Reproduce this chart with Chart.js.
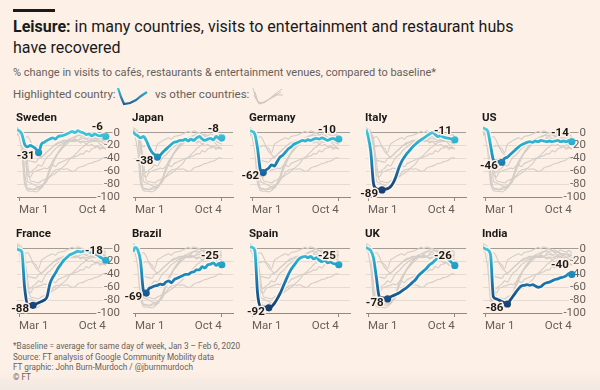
<!DOCTYPE html>
<html>
<head>
<meta charset="utf-8">
<script src="https://cdn.jsdelivr.net/npm/chart.js@4/dist/chart.umd.min.js"></script>
<style>
  body { margin: 0; width: 600px; height: 390px; position: relative; overflow: hidden;
         background: linear-gradient(#fdf0e6 0, #fdf0e6 370px, #f1e8e1 390px);
         font-family: Roboto, "Liberation Sans", sans-serif; color: #1a1a1a; }
  .abs { position: absolute; white-space: nowrap; }
  .title { left: 13px; top: 16px; font-size: 16px; line-height: 21px; color: #1a1a1a; }
  .sub { left: 13px; font-size: 11px; color: #66605c; }
  .name { font-size: 11.5px; font-weight: bold; color: #1a1a1a; }
  .foot { left: 13px; font-size: 8.2px; color: #66605c; }
  canvas { position: absolute; }
</style>
</head>
<body>
<div class="abs" style="left:13px;top:9px;width:42px;height:3px;background:#1a1a1a"></div>
<div class="abs title"><b>Leisure:</b> in many countries, visits to entertainment and restaurant hubs<br>have recovered</div>
<div class="abs sub" style="top:66px">% change in visits to cafés, restaurants &amp; entertainment venues, compared to baseline*</div>
<div class="abs sub" style="top:87px;font-size:11.5px">Highlighted country:</div>
<div class="abs sub" style="top:87px;left:155px;font-size:11.5px">vs other countries:</div>
<svg class="abs" style="left:0;top:0" width="300" height="110">
  <defs>
    <linearGradient id="lg" x1="0" y1="0" x2="0" y2="1">
      <stop offset="0" stop-color="#3fc4da"/>
      <stop offset="1" stop-color="#1b5f98"/>
    </linearGradient>
  </defs>
  <polyline points="118,88 121,97 124,104 130,103 136,100 141,96 147,92" fill="none" stroke="url(#lg)" stroke-width="2.2"/>
  <g fill="none" stroke="#cdc7c1" stroke-width="1">
    <polyline points="253,88 256,99 260,104 268,100 275,94 282,89"/>
    <polyline points="255,92 258,102 264,103 272,97 281,92"/>
    <polyline points="254,95 259,104 266,101 277,95 283,95"/>
  </g>
</svg>

<div class="abs foot" style="top:341px">*Baseline = average for same day of week, Jan 3 – Feb 6, 2020</div>
<div class="abs foot" style="top:351.5px">Source: FT analysis of Google Community Mobility data</div>
<div class="abs foot" style="top:362px">FT graphic: John Burn-Murdoch / @jburnmurdoch</div>
<div class="abs foot" style="top:372px">© FT</div>

<script>
// days relative to Mar 1 (weekly points, 7-day averages)
var days = [-5, 0, 7, 14, 21, 28, 35, 42, 49, 56, 63, 70, 77, 84, 91, 98, 105,
            112, 119, 126, 133, 140, 147, 154, 161, 168, 175, 182, 189, 196, 203, 210, 217];

var countries = ["Sweden", "Japan", "Germany", "Italy", "US",
                 "France", "Brazil", "Spain", "UK", "India"];

var sweden  = [5, 3, -2, -18, -22, -20, -22, -25, -31, -18, -15, -12, -10, -8, -10, -6, -5,
               -4, -2, 0, 2, 0, 3, 1, 0, -3, -2, -5, -2, -4, -5, -3, -6];
var japan   = [2, -2, -5, -8, -6, -12, -22, -30, -34, -38, -35, -30, -26, -22, -18, -15, -14,
               -12, -12, -10, -13, -10, -12, -8, -6, -10, -12, -10, -9, -11, -6, -9, -8];
var germany = [3, 2, -2, -25, -58, -62, -58, -55, -50, -52, -45, -38, -35, -30, -25, -22, -18,
               -16, -14, -12, -13, -11, -12, -10, -9, -10, -8, -10, -12, -10, -9, -11, -10];
var italy   = [5, -5, -30, -80, -87, -88, -89, -88, -87, -84, -78, -68, -55, -45, -38, -32, -27,
               -22, -18, -14, -11, -8, -5, -2, 0, -3, -6, -5, -7, -8, -9, -10, -11];
var us      = [8, 6, 2, -20, -42, -44, -45, -46, -40, -38, -34, -30, -26, -22, -19, -17, -15,
               -14, -15, -13, -14, -12, -13, -14, -13, -14, -13, -12, -14, -13, -14, -12, -14];
var france  = [0, -2, -5, -60, -86, -87, -88, -86, -84, -82, -80, -75, -55, -45, -38, -30, -24,
               -18, -14, -10, -8, -6, -4, -5, -4, -3, -5, -6, -8, -10, -13, -16, -18];
var brazil  = [-5, 2, -2, -20, -65, -69, -62, -60, -58, -57, -55, -56, -52, -50, -53, -48, -46,
               -44, -42, -40, -40, -37, -36, -33, -33, -28, -30, -25, -24, -22, -26, -23, -25];
var spain   = [3, 2, -3, -70, -90, -91, -91, -92, -90, -85, -78, -70, -60, -50, -40, -32, -26,
               -20, -15, -13, -12, -14, -12, -16, -14, -18, -20, -18, -22, -21, -23, -24, -25];
var uk      = [2, 0, -3, -15, -45, -74, -76, -77, -78, -75, -73, -71, -69, -66, -63, -60, -56,
               -52, -48, -42, -38, -34, -30, -25, -22, -18, -15, -14, -12, -14, -18, -22, -26];
var india   = [2, 0, -2, -10, -75, -78, -80, -82, -84, -86, -80, -74, -68, -62, -58, -57, -56,
               -57, -56, -58, -60, -59, -55, -53, -52, -50, -48, -47, -45, -44, -42, -39, -40];

var series = [sweden, japan, germany, italy, us, france, brazil, spain, uk, india];

var yTicks = [0, -20, -40, -60, -80, -100];
var xTickDays = [0, 217];
var xTickLabels = ["Mar 1", "Oct 4"];

var colX = [17, 133, 250, 366, 483];
var rowTop = [123, 239];   // top of plot area (value +15)
var PLOT_W = 100, PLOT_H = 74;
var PAD = { left: 16, right: 12, top: 10, bottom: 2 };
var BG = "#fdf0e6";

function lineGradient(chart) {
  var area = chart.chartArea;
  if (!area) return "#2aa8c8";
  var ys = chart.scales.y;
  var g = chart.ctx.createLinearGradient(0, ys.getPixelForValue(10), 0, ys.getPixelForValue(-100));
  g.addColorStop(0.00, "#55d3e3");
  g.addColorStop(0.09, "#3fc4da");
  g.addColorStop(0.27, "#27aacb");
  g.addColorStop(0.45, "#1d8bbb");
  g.addColorStop(0.64, "#1b68a2");
  g.addColorStop(0.82, "#184b80");
  g.addColorStop(1.00, "#14386a");
  return g;
}

function minIndex(arr) {
  var m = 0;
  for (var i = 1; i < arr.length; i++) if (arr[i] < arr[m]) m = i;
  return m;
}

var valueLabels = {
  id: "valueLabels",
  afterDatasetsDraw: function (chart) {
    var data = chart.data.datasets[0].data;
    var pts = chart.getDatasetMeta(0).data;
    var ctx = chart.ctx;
    var mi = minIndex(data), li = data.length - 1;
    ctx.save();
    ctx.font = "bold 11.5px Roboto, sans-serif";
    ctx.textAlign = "right";
    ctx.textBaseline = "middle";
    ctx.lineJoin = "round";
    ctx.lineWidth = 3;
    ctx.strokeStyle = BG;
    ctx.fillStyle = "#1a1a1a";
    var items = [
      [String(data[mi]), pts[mi].x - 4, pts[mi].y + 4],
      [String(data[li]), pts[li].x - 3, pts[li].y - 9]
    ];
    items.forEach(function (it) {
      ctx.strokeText(it[0], it[1], it[2]);
      ctx.fillText(it[0], it[1], it[2]);
    });
    ctx.restore();
  }
};

countries.forEach(function (name, i) {
  var col = i % 5, row = Math.floor(i / 5);
  var x0 = colX[col], top = rowTop[row];
  var showY = (col === 0 || col === 4);

  var cv = document.createElement("canvas");
  cv.width = PAD.left + PLOT_W + PAD.right;
  cv.height = PAD.top + PLOT_H + 20 + PAD.bottom;
  cv.style.left = (x0 - PAD.left) + "px";
  cv.style.top = (top - PAD.top) + "px";
  document.body.appendChild(cv);

  var label = document.createElement("div");
  label.className = "abs name";
  label.style.left = (x0 - 1) + "px";
  label.style.top = (top - 13) + "px";
  label.textContent = name;
  document.body.appendChild(label);

  var own = series[i];
  var mi = minIndex(own), li = own.length - 1;

  var datasets = [{
    data: own,
    borderColor: function (c) { return lineGradient(c.chart); },
    borderWidth: 2.8,
    pointRadius: function (c) { return (c.dataIndex === mi || c.dataIndex === li) ? 3.6 : 0; },
    pointBackgroundColor: function (c) { return lineGradient(c.chart); },
    pointBorderWidth: 0,
    cubicInterpolationMode: "monotone"
  }, {
    data: own,
    borderColor: "rgba(255,250,246,0.85)",
    borderWidth: 5.5,
    pointRadius: 0,
    cubicInterpolationMode: "monotone"
  }];
  series.forEach(function (s, j) {
    if (j === i) return;
    datasets.push({
      data: s,
      borderColor: "#d3cdc7",
      borderWidth: 1.1,
      pointRadius: 0,
      cubicInterpolationMode: "monotone"
    });
  });

  new Chart(cv, {
    type: "line",
    data: { labels: days, datasets: datasets },
    plugins: [valueLabels],
    options: {
      responsive: false,
      animation: false,
      devicePixelRatio: 1,
      layout: { padding: PAD },
      plugins: { legend: { display: false }, tooltip: { enabled: false } },
      scales: {
        x: {
          type: "linear",
          min: -5,
          max: 245,
          afterBuildTicks: function (s) { s.ticks = xTickDays.map(function (v) { return { value: v }; }); },
          afterFit: function (s) { s.height = 20; },
          grid: { drawOnChartArea: false, drawTicks: true, tickLength: 4, color: "#8f8985" },
          border: { display: true, color: "#8f8985", width: 1 },
          ticks: {
            align: "inner",
            autoSkip: false,
            maxRotation: 0,
            padding: 2,
            color: "#66605c",
            font: { family: "Roboto", size: 11.5 },
            callback: function (v) { return xTickLabels[xTickDays.indexOf(v)]; }
          }
        },
        y: {
          position: "right",
          min: -100,
          max: 15,
          afterBuildTicks: function (s) { s.ticks = yTicks.map(function (v) { return { value: v }; }); },
          afterFit: function (s) { s.width = 0; },
          grid: {
            drawTicks: false,
            color: function (c) {
              var v = c.tick.value;
              if (v === 0) return "#a39c96";
              if (v === -100) return "#8f8985";
              return "#e4dad1";
            }
          },
          border: { display: false },
          ticks: {
            display: showY,
            autoSkip: false,
            mirror: true,
            padding: 3,
            color: "#66605c",
            font: { family: "Roboto", size: 11.5 },
            showLabelBackdrop: true,
            backdropColor: BG,
            backdropPadding: { x: 1, y: 0 }
          }
        }
      }
    }
  });
});
</script>
</body>
</html>
